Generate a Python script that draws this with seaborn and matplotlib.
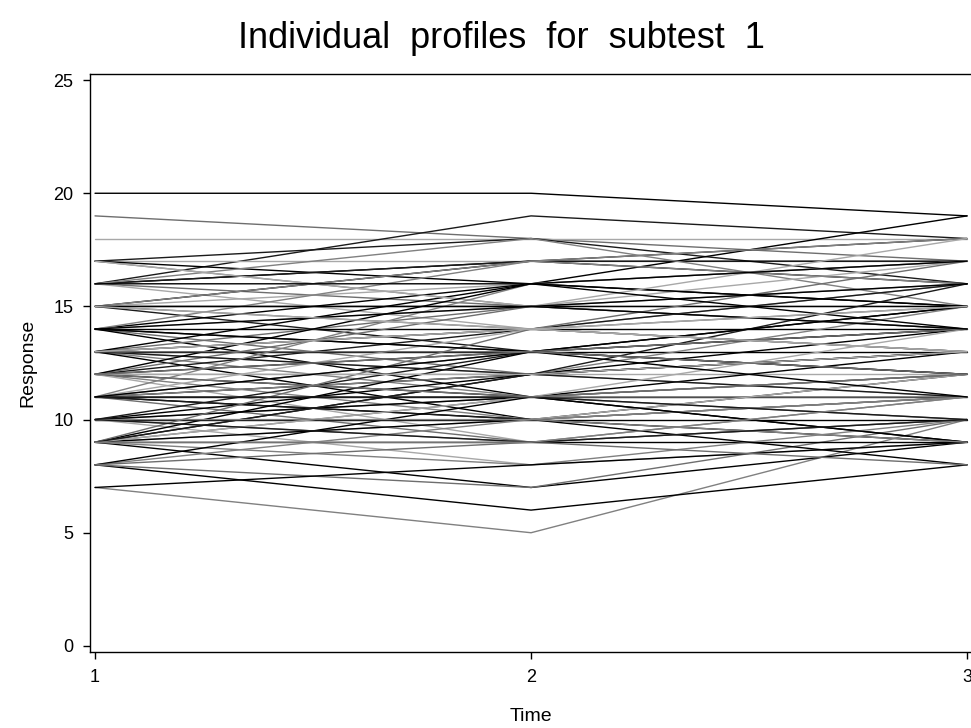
import pandas as pd
import matplotlib.pyplot as plt
import seaborn as sns

# response per subject at each of the three times
time_points = [1, 2, 3]
resp_t1 = [20, 19, 18, 16, 7, 8, 9, 8, 17, 17, 17, 17, 16, 16, 16, 16, 16,
           15, 15, 15, 15, 15, 15, 14, 14, 14, 14, 14, 14, 14, 13, 13, 13,
           13, 13, 13, 13, 13, 12, 12, 12, 12, 12, 12, 12, 11, 11, 11, 11,
           11, 11, 11, 11, 10, 10, 10, 10, 10, 10, 10, 9, 9, 9, 9, 9, 9, 9,
           9, 9, 9, 8, 8, 7, 8, 17, 13, 11, 12,
           14, 13, 12, 11, 10, 15, 16, 12, 13, 10, 9, 11, 14, 12, 15]
resp_t2 = [20, 18, 18, 19, 5, 6, 7, 7, 17, 18, 15, 16, 17, 15, 14, 17, 18,
           15, 17, 14, 16, 13, 17, 14, 16, 12, 15, 13, 17, 11, 13, 15, 12,
           14, 11, 16, 10, 14, 12, 14, 10, 13, 11, 15, 9, 11, 13, 10, 12,
           9, 14, 10, 12, 10, 12, 11, 8, 13, 9, 11, 9, 11, 10, 12, 8, 13,
           10, 14, 11, 12, 10, 11, 8, 9, 15, 12, 16, 16,
           13, 13, 12, 11, 10, 15, 16, 11, 14, 9, 9, 13, 15, 13, 14]
resp_t3 = [19, 17, 18, 18, 10, 8, 9, 10, 17, 16, 16, 19, 17, 15, 16, 18, 15,
           15, 16, 13, 17, 14, 18, 14, 15, 13, 17, 12, 16, 12, 13, 14, 11,
           16, 12, 15, 11, 17, 12, 13, 11, 15, 9, 14, 10, 11, 12, 9, 14,
           10, 13, 12, 15, 10, 13, 11, 9, 14, 11, 13, 9, 10, 12, 11, 10, 12,
           8, 15, 14, 13, 11, 9, 9, 8, 18, 16, 17, 14,
           15, 14, 13, 10, 9, 16, 17, 12, 13, 10, 11, 11, 14, 12, 15]

n_subj = len(resp_t1)
rows = []
for i in range(n_subj):
    for t, vals in zip(time_points, [resp_t1, resp_t2, resp_t3]):
        rows.append({"subject": i, "time": t, "response": vals[i]})
df = pd.DataFrame(rows)

grays = ["#000000", "#6e6e6e", "#a8a8a8", "#1a1a1a", "#808080", "#000000"]
palette = [grays[i % len(grays)] for i in range(n_subj)]

sns.set_style("white")
plt.rcParams["font.family"] = ["Liberation Sans", "DejaVu Sans"]
plt.rcParams["text.color"] = "black"
plt.rcParams["axes.labelcolor"] = "black"

fig = plt.figure(figsize=(9.71, 7.28), dpi=100)
ax = fig.add_axes([90 / 971, 1 - 652 / 728, 1 - 90 / 971, (652 - 74) / 728])

sns.lineplot(
    data=df, x="time", y="response", hue="subject", units="subject",
    estimator=None, palette=palette, legend=False, linewidth=1.0, ax=ax
)

ax.set_xlim(0.9885, 3.009)
ax.set_ylim(-0.27, 25.27)
ax.set_xticks([1, 2, 3])
ax.set_yticks([0, 5, 10, 15, 20, 25])
ax.tick_params(axis="both", direction="out", length=5, width=1,
               labelsize=13, colors="black", bottom=True, left=True, pad=7)
for side in ["left", "bottom", "top"]:
    ax.spines[side].set_color("black")
    ax.spines[side].set_linewidth(1.0)
ax.spines["right"].set_visible(False)

ax.set_xlabel("Time", fontsize=14, labelpad=16)
ax.set_ylabel("Response", fontsize=14, labelpad=12)

fig.text(501 / 971, 1 - 38 / 728, "Individual  profiles  for  subtest  1",
         ha="center", va="center", fontsize=26, color="black")

plt.savefig("out.png", dpi=100)
plt.close()
